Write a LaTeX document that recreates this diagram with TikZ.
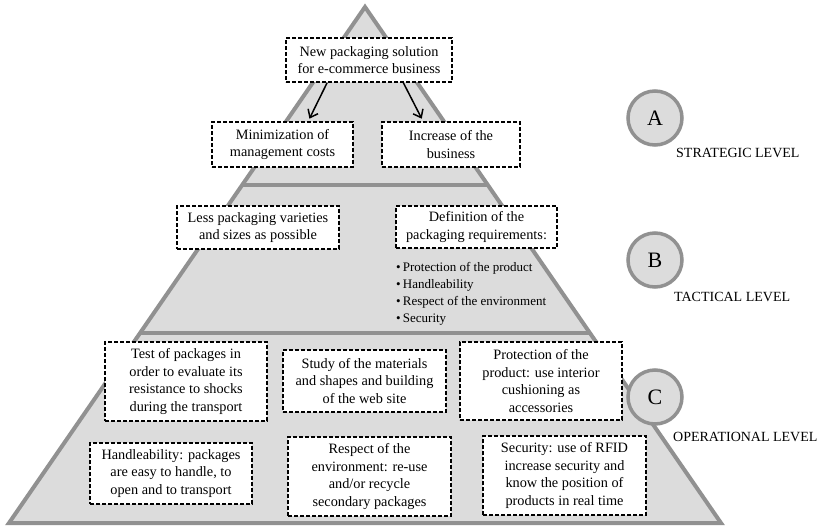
\documentclass[tikz,border=0pt]{standalone}
\usepackage{fontspec}
\setmainfont{Liberation Serif}
\usetikzlibrary{arrows.meta,calc}
\definecolor{pyrfill}{RGB}{220,220,220}
\definecolor{pyrline}{RGB}{145,145,145}
\tikzset{
  dbox/.style={draw=black, fill=white, line width=1.3pt, dash pattern=on 4pt off 2pt,
    inner sep=2pt, align=center, font=\fontsize{14.3}{17.5}\selectfont},
  lvlcirc/.style={circle, draw=pyrline, fill=pyrfill, line width=3.5pt, minimum size=54pt,
    inner sep=0pt, font=\fontsize{22}{24}\selectfont},
  lvllabel/.style={anchor=west, inner sep=0pt, font=\fontsize{14}{16}\selectfont},
  arr/.style={draw=black, line width=1.5pt, -{Straight Barb[length=7pt,width=11pt,line width=1.5pt]}},
  pyr/.style={draw=pyrline, line width=4pt}
}
\begin{document}
\begin{tikzpicture}[x=1pt,y=-1pt]
\useasboundingbox (0,0) rectangle (823,528);
% pyramid
\coordinate (apex) at (365,7);
\coordinate (bl) at (9,523);
\coordinate (br) at (721,523);
\fill[pyrfill] (apex) -- (bl) -- (br) -- cycle;
\coordinate (s1l) at ($(apex)!0.345!(bl)$);
\coordinate (s1r) at ($(apex)!0.345!(br)$);
\coordinate (s2l) at ($(apex)!0.632!(bl)$);
\coordinate (s2r) at ($(apex)!0.632!(br)$);
\draw[pyr] (s1l) -- (s1r);
\draw[pyr] (s2l) -- (s2r);
\draw[pyr, line join=miter] (apex) -- (bl) -- (br) -- cycle;

% strategic level
\node[dbox, minimum width=166pt, minimum height=44pt] (n1) at (369,60)
  {New packaging solution\\for e-commerce business};
\node[dbox, minimum width=141pt, minimum height=45pt] (n2) at (282.5,144.5)
  {Minimization of\\management costs};
\node[dbox, minimum width=138pt, minimum height=45pt] (n3) at (451,144.5)
  {Increase of the\\business};
\draw[arr, shorten >=3pt] ($(n1.south west)!0.25!(n1.south east)$) -- ($(n2.north west)!0.68!(n2.north east)$);
\draw[arr, shorten >=3pt] ($(n1.south west)!0.705!(n1.south east)$) -- ($(n3.north west)!0.30!(n3.north east)$);

% tactical level
\node[dbox, minimum width=162pt, minimum height=43pt] (n4) at (258,227.5)
  {Less packaging varieties\\and sizes as possible};
\node[dbox, minimum width=161pt, minimum height=42pt] (n5) at (476.5,227)
  {Definition of the\\packaging requirements:};
\node[anchor=north west, inner sep=0pt, align=left, font=\fontsize{13}{17}\selectfont] (req) at (396,262)
  {•\,Protection of the product\\•\,Handleability\\•\,Respect of the environment\\•\,Security};

% operational level
\node[dbox, minimum width=162pt, minimum height=79pt] (n6) at (186,381.5)
  {Test of packages in\\order to evaluate its\\resistance to shocks\\during the transport};
\node[dbox, minimum width=163pt, minimum height=62pt] (n7) at (364.5,381)
  {Study of the materials\\and shapes and building\\of the web site};
\node[dbox, minimum width=162pt, minimum height=78pt] (n8) at (541,381)
  {Protection of the\\product: use interior\\cushioning as\\accessories};
\node[dbox, minimum width=162pt, minimum height=61pt] (n9) at (171,473.5)
  {Handleability: packages\\are easy to handle, to\\open and to transport};
\node[dbox, minimum width=163pt, minimum height=79pt] (n10) at (369.5,476.5)
  {Respect of the\\environment: re-use\\and/or recycle\\secondary packages};
\node[dbox, minimum width=163pt, minimum height=79pt] (n11) at (564.5,475.5)
  {Security: use of RFID\\increase security and\\know the position of\\products in real time};

% level markers
\node[lvlcirc] (ca) at (655,118) {A};
\node[lvlcirc] (cb) at (655,260) {B};
\node[lvlcirc] (cc) at (655,397) {C};
\node[lvllabel] (la) at (676,153) {STRATEGIC LEVEL};
\node[lvllabel] (lb) at (674,297) {TACTICAL LEVEL};
\node[lvllabel] (lc) at (673,437) {OPERATIONAL LEVEL};
\end{tikzpicture}
\end{document}
